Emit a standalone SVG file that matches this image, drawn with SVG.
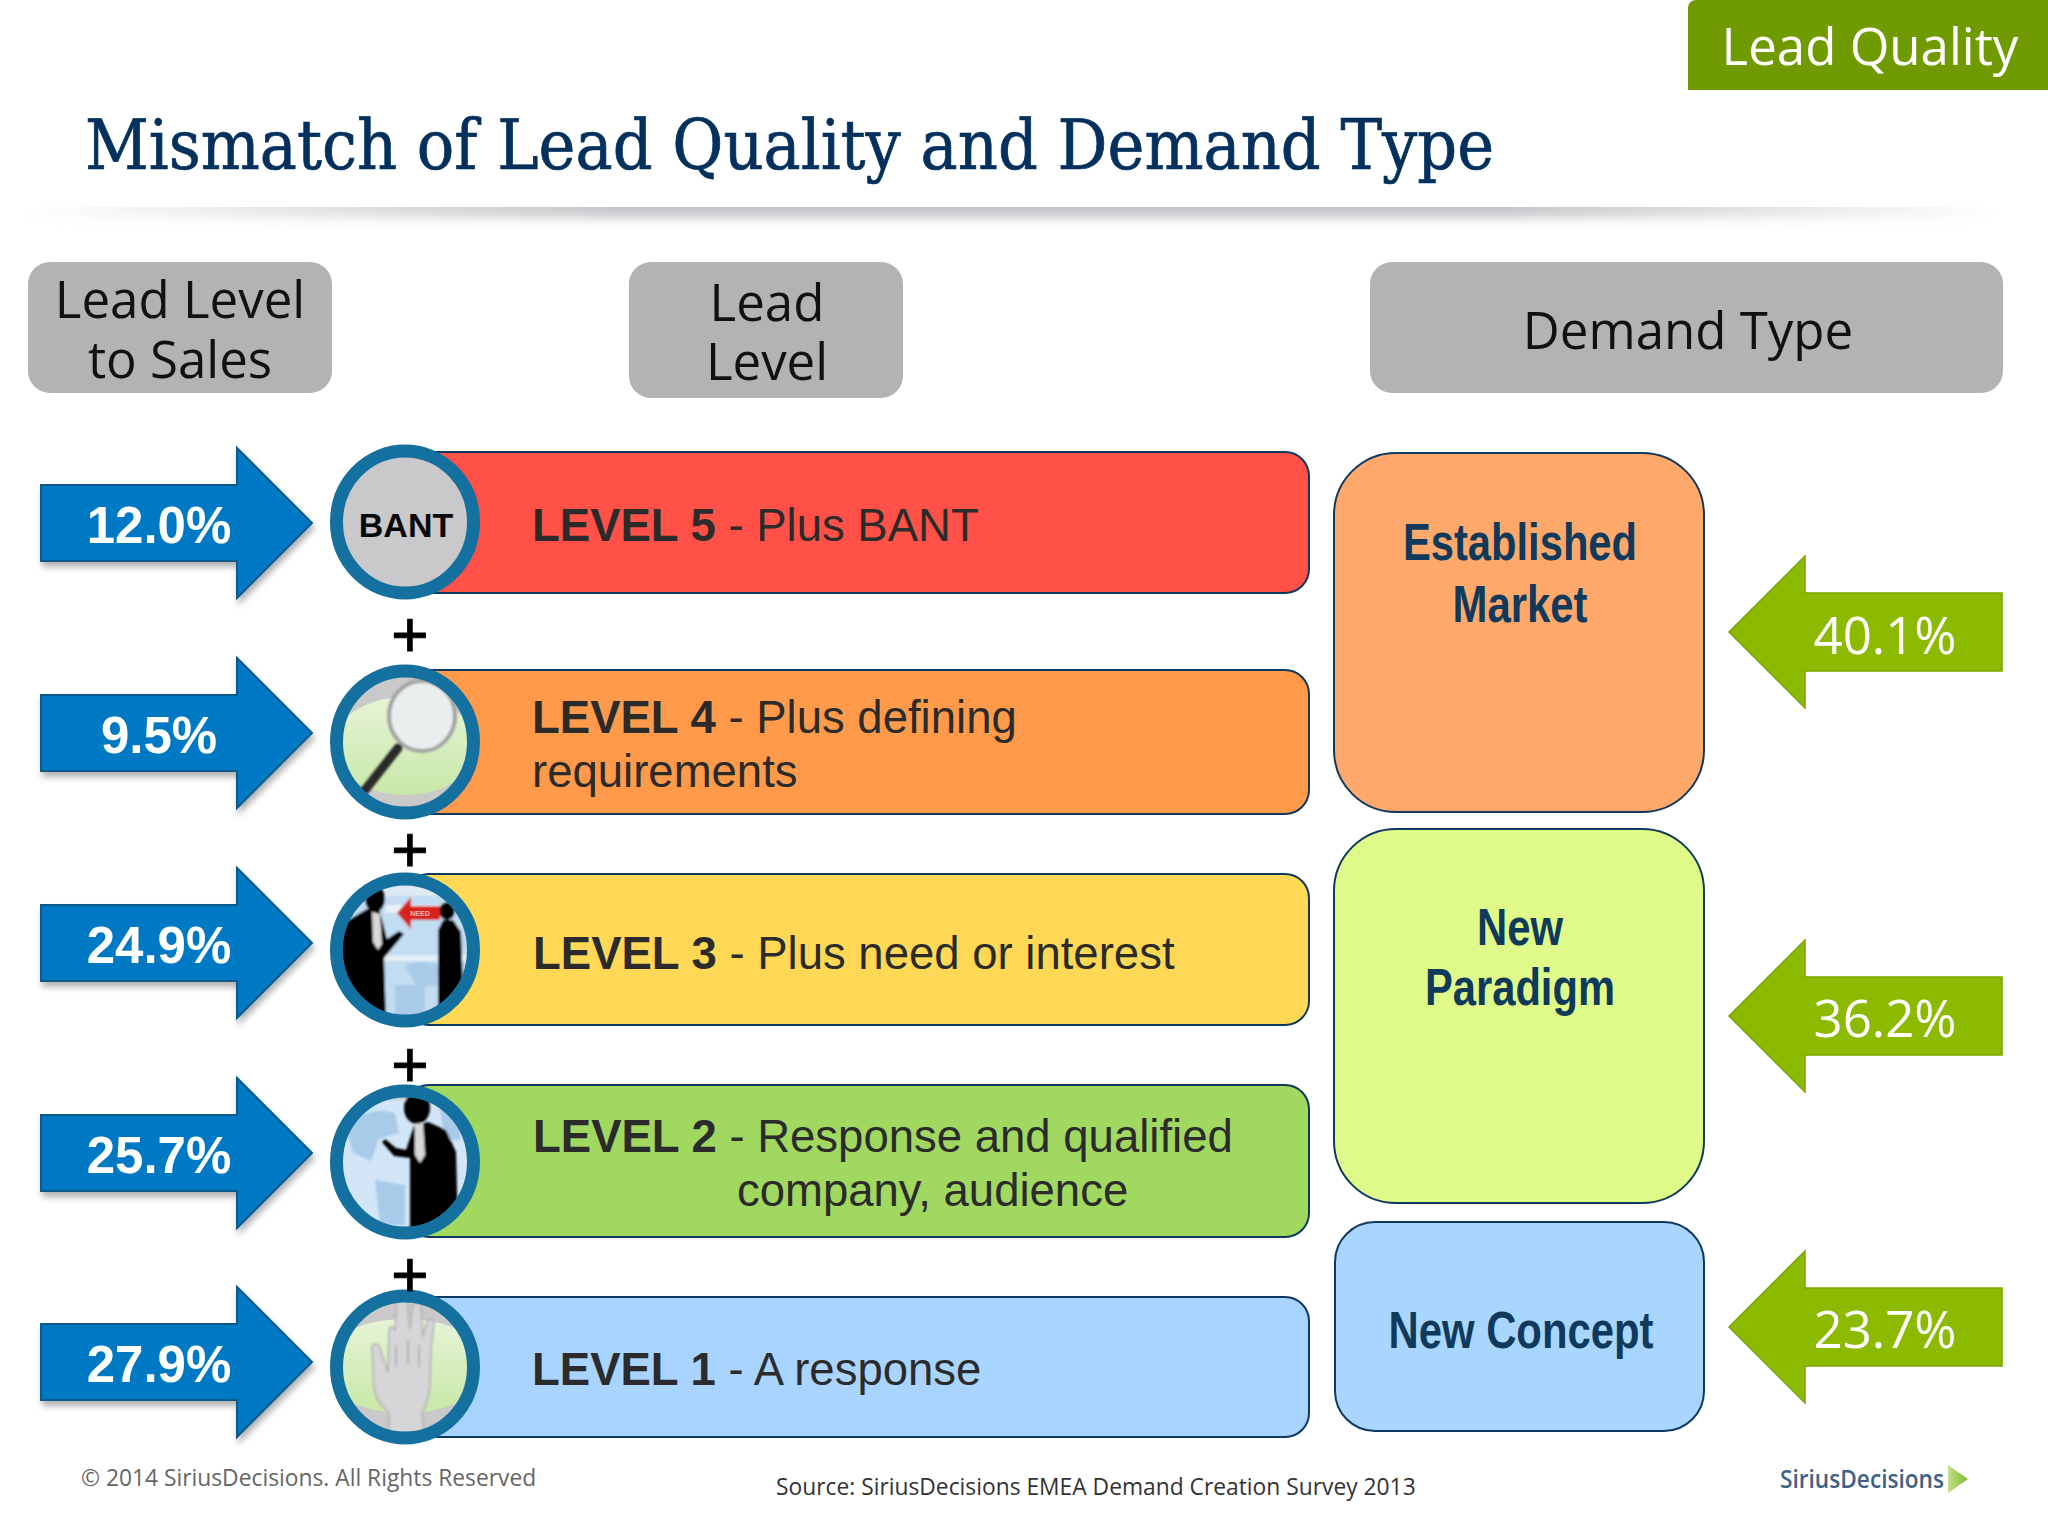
<svg xmlns="http://www.w3.org/2000/svg" width="2048" height="1536" viewBox="0 0 2048 1536">
<style>
.hd{font-family:"Open Sans","Noto Sans",sans-serif;font-size:51px;fill:#111;text-anchor:middle}
.lv{font-family:"Liberation Sans",Arial,sans-serif;font-size:45.5px;fill:#2b2b2b}
.lv tspan.b{font-weight:700}
.pb{font-family:"Liberation Sans",Arial,sans-serif;font-size:51px;font-weight:700;fill:#fff;text-anchor:middle}
.pg{font-family:"Open Sans","Noto Sans",sans-serif;font-size:51px;fill:#fff;text-anchor:middle}
.dm{font-family:"Liberation Sans Narrow","Liberation Sans",sans-serif;font-size:52px;font-weight:700;fill:#0f3a5c;text-anchor:middle}
.plus{font-family:"Liberation Sans",Arial,sans-serif;font-size:64px;fill:#000;stroke:#000;stroke-width:1;text-anchor:middle}
.bar{stroke:#0f3a5f;stroke-width:2}
.ring{fill:none;stroke:#14709f;stroke-width:13}
.ft{font-family:"Open Sans","Noto Sans",sans-serif;font-size:22.8px}
</style>
<defs>
<linearGradient id="ruleH" x1="0" x2="1" y1="0" y2="0"><stop offset="0" stop-color="#000"/><stop offset=".3" stop-color="#fff"/><stop offset=".75" stop-color="#fff"/><stop offset="1" stop-color="#000"/></linearGradient>
<linearGradient id="ruleV" x1="0" x2="0" y1="0" y2="1"><stop offset="0" stop-color="#c6c6ca"/><stop offset=".3" stop-color="#d2d2d5"/><stop offset="1" stop-color="#fff" stop-opacity="0"/></linearGradient>
<mask id="ruleM" maskUnits="userSpaceOnUse" x="20" y="200" width="1980" height="40"><rect x="20" y="200" width="1980" height="40" fill="url(#ruleH)"/></mask>
<linearGradient id="lg" x1="0" x2="0" y1="0" y2="1"><stop offset="0" stop-color="#e6f3d6"/><stop offset="1" stop-color="#c8e8a8"/></linearGradient>
<linearGradient id="logoG" x1="0" x2="1" y1="0" y2="0"><stop offset="0" stop-color="#c4e08a"/><stop offset="1" stop-color="#7db82a"/></linearGradient>
<filter id="sh" x="-10%" y="-10%" width="125%" height="125%"><feDropShadow dx="2" dy="5" stdDeviation="3" flood-color="#000" flood-opacity=".3"/></filter>
<filter id="bl" x="-10%" y="-10%" width="120%" height="120%"><feGaussianBlur stdDeviation="1.1"/></filter>
<path id="ab" d="M41-38H237V-75L312 0 237 75V38H41Z" fill="#0079c4" stroke="#0f5a8a" stroke-width="2"/>
<path id="ag" d="M2002-39H1805V-76L1729 0 1805 76V39H2002Z" fill="#8cba00" stroke="#7aa500" stroke-width="1.5"/>
<clipPath id="c4"><ellipse cx="405" cy="742" rx="63" ry="66"/></clipPath>
<clipPath id="c3"><ellipse cx="405" cy="950" rx="63" ry="66"/></clipPath>
<clipPath id="c2"><ellipse cx="405" cy="1162" rx="63" ry="66"/></clipPath>
<clipPath id="c1"><ellipse cx="405" cy="1367" rx="63" ry="66"/></clipPath>
</defs>
<rect width="2048" height="1536" fill="#fff"/>
<g id="tag"><path d="M1688 90V8a8 8 0 0 1 8-8H2048V90Z" fill="#6f9a00"/><text x="1870" y="65" font-family="Open Sans,Noto Sans,sans-serif" font-size="51" fill="#fff" text-anchor="middle">Lead Quality</text></g>
<g id="title"><text x="85" y="169" font-family="DejaVu Serif Condensed,DejaVu Serif,serif" font-size="70" fill="#03305c" stroke="#03305c" stroke-width=".7" textLength="1409" lengthAdjust="spacingAndGlyphs">Mismatch of Lead Quality and Demand Type</text>
<rect x="20" y="207" width="1980" height="24" fill="url(#ruleV)" mask="url(#ruleM)"/></g>
<g id="hdr1"><rect x="28" y="262" width="304" height="131" rx="22" fill="#b3b3b6"/><text class="hd" x="180" y="318">Lead Level</text><text class="hd" x="180" y="378">to Sales</text></g>
<g id="hdr2"><rect x="629" y="262" width="274" height="136" rx="22" fill="#b3b3b6"/><text class="hd" x="767" y="321">Lead</text><text class="hd" x="767" y="380">Level</text></g>
<g id="hdr3"><rect x="1370" y="262" width="633" height="131" rx="22" fill="#b3b3b6"/><text class="hd" x="1688" y="349">Demand Type</text></g>
<g id="connectors">
<use href="#ab" y="523" filter="url(#sh)"/><use href="#ab" y="733" filter="url(#sh)"/><use href="#ab" y="943" filter="url(#sh)"/><use href="#ab" y="1153" filter="url(#sh)"/><use href="#ab" y="1362" filter="url(#sh)"/>
<use href="#ag" y="632"/><use href="#ag" y="1016"/><use href="#ag" y="1327"/>
</g>
<g id="pct-blue"><text class="pb" x="159" y="543">12.0%</text><text class="pb" x="159" y="753">9.5%</text><text class="pb" x="159" y="963">24.9%</text><text class="pb" x="159" y="1173">25.7%</text><text class="pb" x="159" y="1382">27.9%</text></g>
<g id="pct-green"><text class="pg" x="1885" y="654">40.1%</text><text class="pg" x="1885" y="1037">36.2%</text><text class="pg" x="1885" y="1348">23.7%</text></g>
<g id="level5"><rect class="bar" x="405" y="452" width="904" height="141" rx="24" fill="#ff5147"/><text class="lv" x="532" y="541"><tspan class="b">LEVEL 5</tspan> - Plus BANT</text>
<ellipse cx="405" cy="522" rx="69" ry="71" fill="#c9c8ca"/><ellipse class="ring" cx="405" cy="522" rx="68.5" ry="71"/><text x="406" y="537" font-family="Liberation Sans,Arial,sans-serif" font-size="34" font-weight="700" text-anchor="middle" fill="#0a0a0a">BANT</text></g>
<g id="level4"><rect class="bar" x="405" y="670" width="904" height="144" rx="24" fill="#ff9a4a"/><text class="lv" x="532" y="733"><tspan class="b">LEVEL 4</tspan> - Plus defining</text><text class="lv" x="532" y="787">requirements</text>
<ellipse cx="405" cy="742" rx="69" ry="71" fill="#c9c9c9"/>
<g clip-path="url(#c4)"><ellipse cx="405" cy="746" rx="72" ry="49" fill="url(#lg)"/><g filter="url(#bl)"><path d="M365 790 398 748" stroke="#2c2c2c" stroke-width="9" stroke-linecap="round"/><ellipse cx="422" cy="716" rx="33" ry="35" fill="#e9eeee" stroke="#a2a2a2" stroke-width="4"/></g></g>
<ellipse class="ring" cx="405" cy="742" rx="68.5" ry="71"/></g>
<g id="level3"><rect class="bar" x="405" y="874" width="904" height="151" rx="24" fill="#ffd955"/><text class="lv" x="533" y="969"><tspan class="b">LEVEL 3</tspan> - Plus need or interest</text>
<ellipse cx="405" cy="950" rx="69" ry="71" fill="#dfe9f2"/>
<g clip-path="url(#c3)"><g filter="url(#bl)"><path d="M340 896H470V1020H340Z" fill="#c2dcf2"/><path d="M385 905h85v8h-85Z" fill="#e7f0f7"/><path d="M385 955h85v6h-85Z" fill="#e4eef8"/><path d="M405 965q25-8 40 6l-8 14-20 2ZM395 985h30v30h-30Z" fill="#a9cbe8"/><ellipse cx="375" cy="899" rx="10" ry="13" fill="#000"/><path d="M340 1020V925l27-16h12l5 18 3 12 12-8 5 3-15 18-5 6 2 62Z" fill="#000"/><path d="M372 912l8 2 2 30-4 6-5-8Z" fill="#d8d8d8"/><ellipse cx="447" cy="911" rx="8" ry="9" fill="#000"/><path d="M438 1012V930l5-10h10l8 12 3 80Z" fill="#000"/><path d="M397 913l14-16v9h29v14h-29v9Z" fill="#d8211c"/></g><text x="420" y="916" font-family="Liberation Sans,Arial,sans-serif" font-size="7" font-weight="700" fill="#fbb" text-anchor="middle">NEED</text></g>
<ellipse class="ring" cx="405" cy="950" rx="68.5" ry="71"/></g>
<g id="level2"><rect class="bar" x="405" y="1085" width="904" height="152" rx="24" fill="#a0d860"/><text class="lv" x="533" y="1152"><tspan class="b">LEVEL 2</tspan> - Response and qualified</text><text class="lv" x="737" y="1206">company, audience</text>
<ellipse cx="405" cy="1162" rx="69" ry="71" fill="#d2e6f7"/>
<g clip-path="url(#c2)"><g filter="url(#bl)"><rect x="340" y="1090" width="130" height="10" fill="#cfcfd2"/><path d="M345 1125q25-20 50-12l4 20-20 6-8 22-18-8ZM375 1180l30 5v40h-25ZM440 1110h20v30h-15Z" fill="#a9cbea"/><ellipse cx="417" cy="1108" rx="13" ry="16" fill="#000"/><path d="M410 1232V1158l-16-2-12-14 3-3 11 9 10 2 8-24 14-4 18 8 10 22 2 80Z" fill="#000"/><path d="M415 1124l8-1 2 32-5 8-5-8Z" fill="#d8d8d8"/></g></g>
<ellipse class="ring" cx="405" cy="1162" rx="68.5" ry="71"/></g>
<g id="level1"><rect class="bar" x="405" y="1297" width="904" height="140" rx="24" fill="#a8d4ff"/><text class="lv" x="532" y="1385"><tspan class="b">LEVEL 1</tspan> - A response</text>
<ellipse cx="405" cy="1367" rx="69" ry="71" fill="#c9c9c9"/>
<g clip-path="url(#c1)"><ellipse cx="405" cy="1366" rx="85" ry="47" fill="url(#lg)"/><path filter="url(#bl)" d="M389 1434v-22q-12-8-15-24l-2-42q3-4 7 0l9 26 1-42q2-6 6 0l2-28q5-6 10-1l3 28 3-24q5-4 8 0l2 32 4-16q5-4 7 1l-3 28-1 36q-2 18-8 26l2 22Z" fill="#d6d6d8" stroke="#b0b0b2" stroke-width="1.5"/><path filter="url(#bl)" d="M396 1345v22M408 1340v24M419 1345v22" stroke="#b4b4b6" stroke-width="2" fill="none"/></g>
<ellipse class="ring" cx="405" cy="1367" rx="68.5" ry="71"/></g>
<g id="plus"><text class="plus" x="410" y="657">+</text><text class="plus" x="410" y="872">+</text><text class="plus" x="410" y="1087">+</text><text class="plus" x="410" y="1297">+</text></g>
<g id="established"><rect x="1334" y="453" width="370" height="359" rx="62" fill="#ffa86b" stroke="#0f3a5f" stroke-width="2"/><text class="dm" x="1520" y="560" textLength="234" lengthAdjust="spacingAndGlyphs">Established</text><text class="dm" x="1520" y="622" textLength="135" lengthAdjust="spacingAndGlyphs">Market</text></g>
<g id="paradigm"><rect x="1334" y="829" width="370" height="374" rx="62" fill="#e0fa8a" stroke="#0f3a5f" stroke-width="2"/><text class="dm" x="1520" y="945" textLength="86" lengthAdjust="spacingAndGlyphs">New</text><text class="dm" x="1520" y="1005" textLength="190" lengthAdjust="spacingAndGlyphs">Paradigm</text></g>
<g id="concept"><rect x="1335" y="1222" width="369" height="209" rx="40" fill="#a8d6ff" stroke="#0f3a5f" stroke-width="2"/><text class="dm" x="1521" y="1348" textLength="265" lengthAdjust="spacingAndGlyphs">New Concept</text></g>
<g id="footer"><text class="ft" x="81" y="1486" fill="#666">© 2014 SiriusDecisions. All Rights Reserved</text><text class="ft" x="776" y="1495" fill="#333">Source: SiriusDecisions EMEA Demand Creation Survey 2013</text></g>
<g id="logo"><text x="1780" y="1488" font-family="Open Sans,Noto Sans,sans-serif" font-size="26" font-weight="600" fill="#3f6285" textLength="164" lengthAdjust="spacingAndGlyphs">SiriusDecisions</text><path d="M1948 1465 1968 1479 1948 1493Z" fill="url(#logoG)"/></g>
</svg>
